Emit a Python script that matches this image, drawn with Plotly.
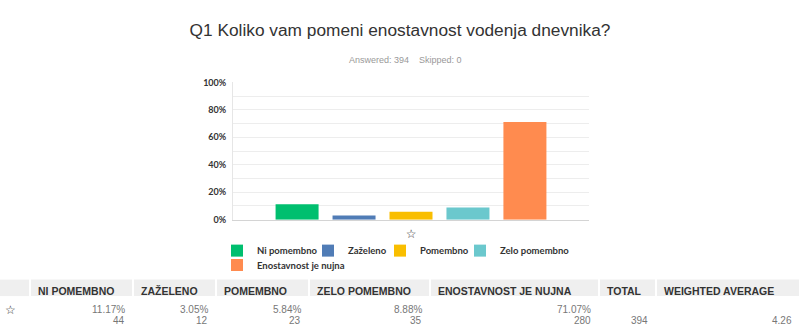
import plotly.graph_objects as go

categories = ["Ni pomembno", "Zaželeno", "Pomembno", "Zelo pomembno", "Enostavnost je nujna"]
percentages = [11.17, 3.05, 5.84, 8.88, 71.07]
counts = [44, 12, 23, 35, 280]
colors = ["#00bf6f", "#507cb6", "#f9be00", "#6bc8cd", "#ff8b4f"]
total = 394
weighted_average = 4.26
x_label = "☆"
y_ticks = [0, 10, 20, 30, 40, 50, 60, 70, 80, 90, 100]
y_tick_text = ["0%", "", "20%", "", "40%", "", "60%", "", "80%", "", "100%"]
table_headers = ["", "NI POMEMBNO", "ZAŽELENO", "POMEMBNO", "ZELO POMEMBNO",
                 "ENOSTAVNOST JE NUJNA", "TOTAL", "WEIGHTED AVERAGE"]

W, H = 800, 332

fig = go.Figure()

legend_widths = [46, 27, 35, 80, 110]
for i, (cat, p, col) in enumerate(zip(categories, percentages, colors)):
    fig.add_trace(go.Bar(
        x=[x_label], y=[p], name=cat, marker=dict(color=col, line=dict(width=0)),
        legend="legend" if i < 4 else "legend2",
        legendwidth=legend_widths[i],
        hoverinfo="skip",
    ))

# ---- summary table (header cells as shapes, values as annotations) ----
col_widths = [30, 103, 83, 93, 121, 169, 57, 144]
edges = [0]
for w in col_widths:
    edges.append(edges[-1] + w)

def px(x):
    return x / W

def py(y):
    return 1 - y / H

HEAD_TOP, HEAD_BOT = 283, 300
HEAD_TEXT_Y = 294.5
ROW1_Y, ROW2_Y = 314, 325
PAD = 7

shapes = []
annotations = []
for j, label in enumerate(table_headers):
    x0, x1 = edges[j], edges[j + 1]
    shapes.append(dict(type="rect", xref="paper", yref="paper",
                       x0=px(x0 + (1 if j > 0 else 0)), x1=px(x1 - 1),
                       y0=py(HEAD_BOT), y1=py(HEAD_TOP),
                       fillcolor="#efefef", line=dict(width=0), layer="below"))
    if label:
        annotations.append(dict(text=label, x=px(x0 + PAD), y=py(HEAD_TEXT_Y),
                                xref="paper", yref="paper", xanchor="left", yanchor="middle",
                                showarrow=False, borderpad=0,
                                font=dict(family="Liberation Sans, Arial", size=10.5,
                                          color="#333333", weight="bold")))

cell_font = dict(family="Liberation Sans, Arial", size=10, color="#777777")
annotations.append(dict(text=x_label, x=px(10), y=py(ROW1_Y), xref="paper", yref="paper",
                        xanchor="center", yanchor="middle", showarrow=False,
                        font=dict(family="DejaVu Sans", size=12, color="#333333")))
for j, (p, c) in enumerate(zip(percentages, counts)):
    xr = px(edges[j + 2] - PAD)
    annotations.append(dict(text=f"{p:.2f}%", x=xr, y=py(ROW1_Y), xref="paper", yref="paper",
                            xanchor="right", yanchor="middle", showarrow=False, borderpad=0,
                            font=cell_font))
    annotations.append(dict(text=f"{c}", x=xr, y=py(ROW2_Y), xref="paper", yref="paper",
                            xanchor="right", yanchor="middle", showarrow=False, borderpad=0,
                            font=cell_font))
annotations.append(dict(text=f"{total}", x=px(edges[7] - PAD), y=py(ROW2_Y), xref="paper",
                        yref="paper", xanchor="right", yanchor="middle", showarrow=False,
                        borderpad=0, font=cell_font))
annotations.append(dict(text=f"{weighted_average:.2f}", x=px(edges[8] - PAD), y=py(ROW2_Y),
                        xref="paper", yref="paper", xanchor="right", yanchor="middle",
                        showarrow=False, borderpad=0, font=cell_font))

annotations.append(dict(text="Answered: 394&nbsp;&nbsp;&nbsp;&nbsp;Skipped: 0", x=px(406), y=py(56),
                        xref="paper", yref="paper", showarrow=False, xanchor="center",
                        yanchor="middle",
                        font=dict(family="Liberation Sans, Arial", size=9, color="#999999")))

fig.update_layout(
    width=W, height=H,
    margin=dict(l=0, r=0, t=0, b=0),
    paper_bgcolor="white", plot_bgcolor="white",
    barmode="group", bargap=0.2, bargroupgap=0.245,
    title=dict(text="Q1 Koliko vam pomeni enostavnost vodenja dnevnika?",
               x=0.5, xanchor="center", y=py(30), yanchor="middle",
               font=dict(family="Liberation Sans, Arial", size=17.3, color="#333333")),
    xaxis=dict(domain=[px(233), px(589)], showline=True, linecolor="#d4d4d4", linewidth=1,
               ticks="", ticklabelstandoff=3,
               tickfont=dict(family="DejaVu Sans", size=12, color="#333333"),
               fixedrange=True),
    yaxis=dict(domain=[py(221), py(79)], range=[0, 100],
               tickvals=y_ticks, ticktext=y_tick_text, showgrid=True, gridcolor="#ededed",
               showline=True, linecolor="#e6e6e6", zeroline=False, ticks="",
               ticklabelstandoff=4,
               tickfont=dict(family="Lato", size=9, color="#333333", weight="bold"),
               fixedrange=True),
    legend=dict(orientation="h", x=px(217), xanchor="left", y=py(238), yanchor="top",
                font=dict(family="Lato", size=9.5, color="#333333", weight="bold"),
                tracegroupgap=0, itemwidth=30, bgcolor="rgba(0,0,0,0)"),
    legend2=dict(orientation="h", x=px(217), xanchor="left", y=py(253), yanchor="top",
                 font=dict(family="Lato", size=9.5, color="#333333", weight="bold"),
                 itemwidth=30, bgcolor="rgba(0,0,0,0)"),
    shapes=shapes,
    annotations=annotations,
)

fig.write_html("out.html")
